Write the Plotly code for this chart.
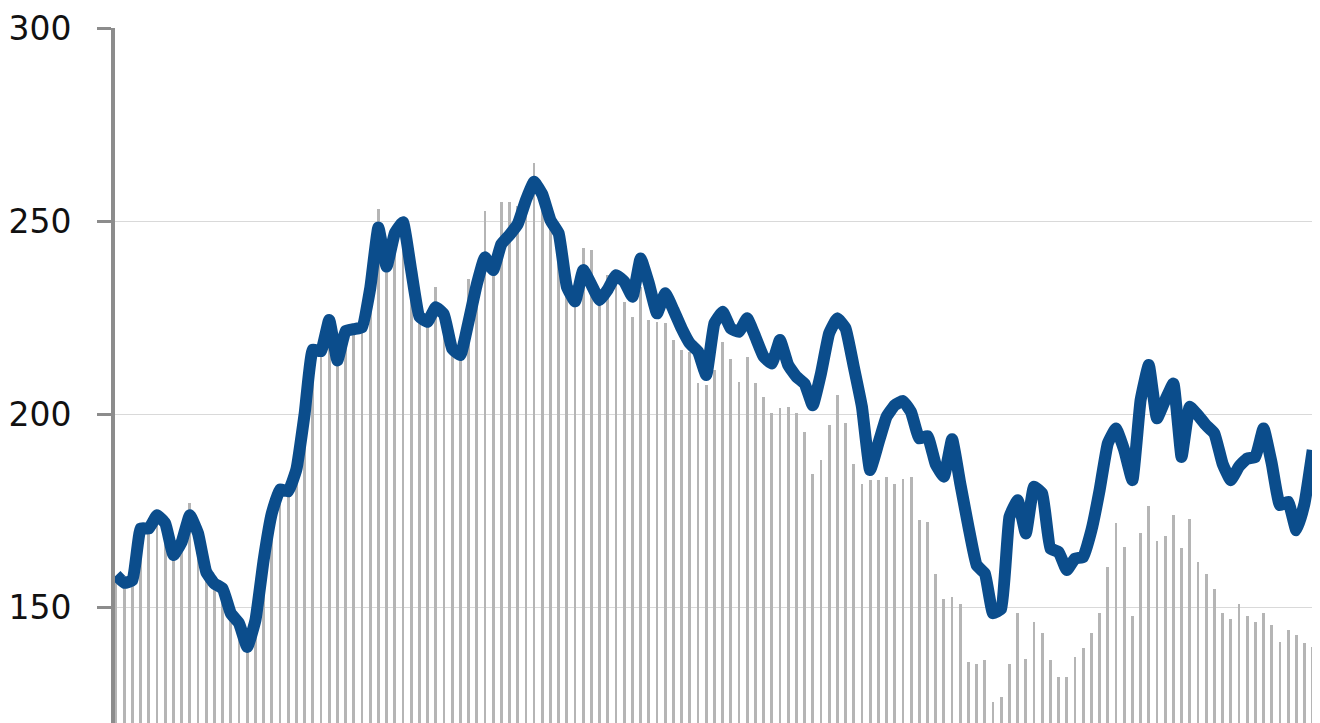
import plotly.graph_objects as go

# index of each period (x positions)
periods = list(range(147))

# blue line series
line_values = [
    158.3, 156.3, 157.0, 170.4, 170.4, 173.8, 171.7, 163.5, 166.9, 173.8,
    169.1, 159.1, 156.1, 154.8, 148.4, 145.8, 139.7, 146.6, 162.2, 174.3,
    180.5, 180.0, 185.7, 200.0, 216.7, 216.3, 224.4, 213.9, 221.5, 222.0,
    222.5, 232.5, 248.3, 238.2, 246.8, 249.7, 237.3, 225.3, 223.9, 227.7,
    225.8, 217.0, 215.3, 223.9, 233.5, 240.6, 237.3, 244.0, 246.4, 249.2,
    255.4, 260.2, 256.9, 250.2, 246.8, 233.0, 229.2, 237.3, 233.5, 229.5,
    232.3, 236.0, 234.3, 230.4, 240.3, 233.9, 226.1, 231.3, 227.0, 222.2,
    218.3, 216.2, 210.1, 223.5, 226.5, 222.2, 221.3, 224.8, 220.0, 214.9,
    213.1, 219.2, 212.7, 209.7, 207.9, 202.3, 210.5, 220.9, 224.8, 222.2,
    212.3, 201.9, 185.5, 192.4, 199.3, 202.3, 203.4, 200.5, 193.7, 194.3,
    187.0, 183.8, 193.5, 182.0, 170.8, 160.9, 158.7, 148.4, 149.6, 173.4,
    177.7, 169.1, 181.2, 179.4, 165.2, 164.3, 159.6, 162.6, 163.0, 169.9,
    180.3, 192.4, 196.3, 190.7, 182.9, 203.6, 212.7, 198.9, 203.6, 207.9,
    188.9, 201.9, 199.7, 197.1, 195.0, 187.2, 182.9, 186.4, 188.5, 188.9,
    196.3, 187.2, 176.4, 177.3, 169.9, 176.9, 190.7,
]

# grey bar series
bar_values = [
    158.0, 156.0, 156.5, 170.0, 170.0, 175.0, 171.2, 163.0, 166.4, 177.0,
    168.6, 158.6, 155.6, 154.3, 147.9, 145.3, 139.2, 146.1, 161.7, 173.8,
    180.0, 179.5, 185.2, 199.5, 216.2, 215.8, 223.9, 213.4, 221.0, 221.5,
    222.0, 232.0, 253.0, 237.7, 246.3, 249.2, 236.8, 224.8, 223.4, 233.0,
    225.3, 216.5, 214.8, 235.0, 233.0, 252.6, 236.8, 255.0, 255.0, 254.0,
    254.9, 265.0, 256.4, 249.7, 246.3, 232.5, 228.7, 243.0, 242.5, 229.0,
    236.0, 235.0, 229.1, 225.2, 233.0, 224.4, 223.9, 223.5, 219.2, 216.6,
    216.2, 208.0, 207.5, 211.4, 218.7, 214.4, 208.4, 214.9, 208.0, 204.5,
    200.2, 201.5, 201.9, 200.2, 195.4, 184.6, 188.1, 197.2, 204.9, 197.6,
    187.2, 182.0, 182.9, 182.9, 183.8, 182.0, 183.1, 183.8, 172.5, 172.1,
    158.7, 152.0, 152.7, 150.7, 135.8, 135.4, 136.3, 125.5, 126.8, 135.4,
    148.4, 136.7, 146.2, 143.2, 136.3, 131.9, 131.9, 137.1, 139.3, 143.2,
    148.4, 160.4, 171.7, 165.6, 147.7, 169.1, 176.2, 167.2, 168.5, 173.8,
    165.2, 172.8, 161.8, 158.7, 154.6, 148.4, 147.0, 150.7, 147.7, 146.2,
    148.6, 145.3, 141.0, 144.0, 142.7, 140.6, 139.7,
]

y_ticks = [150, 200, 250, 300]
y_tick_labels = ["150", "200", "250", "300"]

fig = go.Figure()
fig.add_trace(go.Bar(
    x=periods, y=bar_values, width=0.34,
    marker=dict(color="#b5b5b5", line=dict(width=0)),
    showlegend=False, hoverinfo="skip",
))
fig.add_trace(go.Scatter(
    x=periods, y=line_values, mode="lines",
    line=dict(color="#0b4d8c", width=12, shape="spline", smoothing=0.35),
    showlegend=False,
))

# the page places the figure 8px in from the top-left corner
fig.update_layout(
    width=1312, height=715,
    margin=dict(l=107, r=5, t=20, b=0, autoexpand=False),
    plot_bgcolor="white", paper_bgcolor="white",
    bargap=0,
    font=dict(family="DejaVu Sans", color="#111111"),
    xaxis=dict(visible=False, range=[-0.134, 146.28], fixedrange=True,
               automargin=False),
    yaxis=dict(
        range=[120, 300],
        tickvals=y_ticks, ticktext=y_tick_labels,
        tickfont=dict(size=33, family="DejaVu Sans", color="#111111"),
        showgrid=True, gridcolor="#d9d9d9", gridwidth=1,
        zeroline=False,
        showline=True, linecolor="#8c8c8c", linewidth=4,
        ticks="outside", ticklen=14, tickwidth=3, tickcolor="#8c8c8c",
        ticklabelstandoff=19,
        automargin=False,
        fixedrange=True,
    ),
)

fig.write_html("out.html")
